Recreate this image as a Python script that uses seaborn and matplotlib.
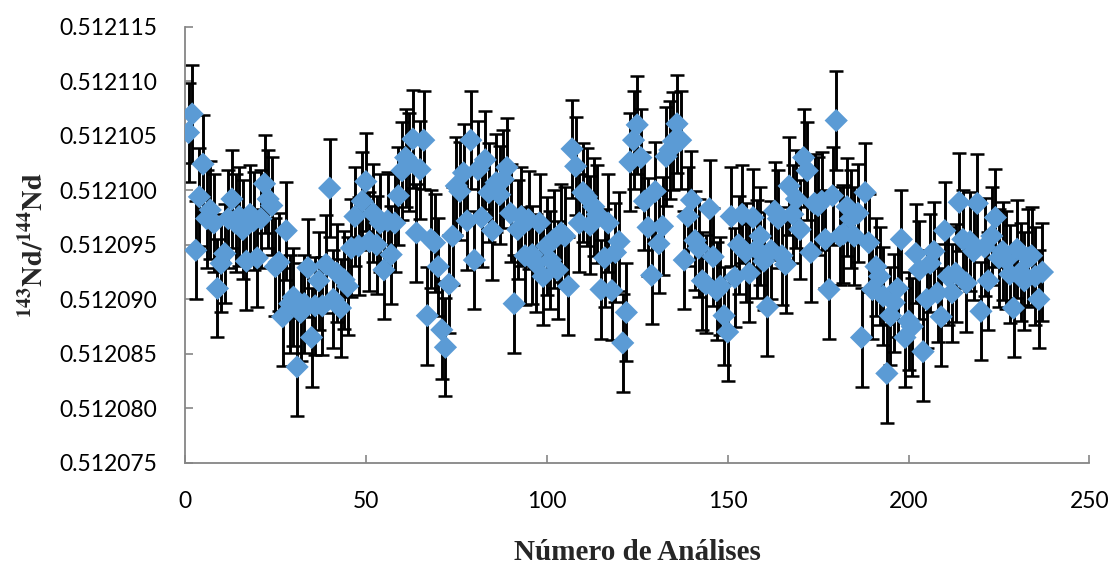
import numpy as np
import pandas as pd
import matplotlib
matplotlib.use("Agg")
import matplotlib.pyplot as plt
import seaborn as sns
from matplotlib.ticker import FormatStrFormatter, MultipleLocator

# === DADOS ===
# razão 143Nd/144Nd = 0.512 + valor * 1e-6
valores = [
    105.3, 107.0, 94.5, 99.4, 102.4, 97.4, 98.2, 97.0, 91.0, 93.3,
    94.2, 97.4, 99.2, 97.0, 97.6, 96.4, 93.5, 97.8, 97.2, 93.8,
    97.4, 100.6, 99.2, 98.6, 93.0, 93.4, 88.4, 96.3, 89.6, 90.2,
    83.8, 88.8, 89.6, 92.9, 86.5, 89.4, 91.7, 89.4, 93.2, 100.2,
    90.0, 92.4, 89.2, 91.8, 91.2, 94.7, 97.6, 94.9, 99.0, 100.8,
    95.3, 97.9, 95.0, 97.0, 92.7, 97.2, 94.1, 97.0, 99.5, 101.8,
    103.0, 102.6, 104.7, 96.1, 101.9, 104.6, 88.5, 95.5, 95.2, 93.0,
    87.2, 85.6, 91.4, 95.8, 100.4, 99.9, 101.6, 97.2, 104.6, 93.6,
    101.9, 97.5, 102.8, 99.8, 96.3, 100.7, 99.6, 101.0, 102.1, 97.9,
    89.6, 96.4, 97.6, 94.0, 97.3, 94.1, 93.3, 97.0, 92.1, 94.9,
    93.6, 95.5, 92.7, 96.1, 95.8, 91.2, 103.8, 102.2, 97.0, 99.8,
    99.4, 96.8, 98.5, 97.8, 90.9, 93.8, 97.0, 90.8, 94.3, 95.3,
    86.0, 88.8, 102.6, 104.6, 106.0, 103.0, 99.0, 96.6, 92.2, 99.9,
    95.1, 96.7, 103.1, 103.7, 104.5, 106.1, 104.6, 93.6, 97.6, 99.1,
    95.4, 94.7, 91.7, 91.4, 98.3, 93.9, 90.8, 91.2, 88.5, 87.0,
    97.6, 92.0, 95.0, 97.8, 94.3, 92.4, 97.5, 94.6, 95.8, 93.5,
    89.3, 94.5, 98.1, 97.4, 94.0, 93.2, 100.4, 97.8, 99.2, 96.4,
    103.0, 101.8, 94.3, 98.8, 98.6, 99.0, 95.5, 90.9, 99.5, 106.4,
    95.8, 96.0, 98.5, 97.4, 95.8, 97.9, 86.5, 99.8, 95.2, 90.9,
    93.0, 92.1, 90.3, 83.2, 88.5, 89.7, 91.0, 95.5, 86.5, 88.0,
    87.5, 94.2, 92.7, 85.2, 90.0, 93.3, 94.4, 90.6, 88.4, 96.3,
    92.1, 90.6, 92.4, 98.9, 95.5, 91.5, 95.3, 94.4, 98.8, 88.9,
    94.8, 91.7, 95.8, 97.5, 93.8, 94.4, 93.6, 92.3, 89.2, 94.6,
    92.5, 91.7, 93.8, 94.0, 92.1, 90.0, 92.5,
]
erro = 4.5  # meia barra de erro (x 1e-6)

analise = np.arange(1, len(valores) + 1)
razao = 0.512 + np.array(valores) * 1e-6
df = pd.DataFrame({"analise": analise, "razao": razao, "erro": erro * 1e-6})

# === FIGURA ===
sns.set_theme(style="white")
plt.rcParams["font.family"] = ["Lato", "DejaVu Sans"]
plt.rcParams["mathtext.fontset"] = "stix"

fig = plt.figure(figsize=(11.14, 5.70), dpi=100)
ax = fig.add_axes([0.166, 0.188, 0.812, 0.765])

# barras de erro
ax.errorbar(df["analise"], df["razao"], yerr=df["erro"], fmt="none",
            ecolor="black", elinewidth=2.1, capsize=4.8, capthick=1.8, zorder=2)
# pontos
sns.scatterplot(data=df, x="analise", y="razao", marker="D", s=140,
                color="#5B9BD5", edgecolor="none", linewidth=0, ax=ax, zorder=3)

ax.set_xlim(0, 250)
ax.set_ylim(0.512075, 0.512115)
ax.xaxis.set_major_locator(MultipleLocator(50))
ax.yaxis.set_major_locator(MultipleLocator(0.000005))
ax.yaxis.set_major_formatter(FormatStrFormatter("%.6f"))

for lado in ["top", "right"]:
    ax.spines[lado].set_visible(False)
ax.spines["left"].set_color("#868686")
ax.spines["bottom"].set_color("#868686")
ax.spines["left"].set_linewidth(1.3)
ax.spines["bottom"].set_linewidth(1.3)

ax.tick_params(axis="both", direction="in", length=6, width=1.2,
               color="#868686", labelsize=16.5, labelcolor="black", pad=20)
ax.tick_params(left=True, bottom=True)

ax.set_xlabel("Número de Análises", fontsize=21, fontweight="bold",
              family="Liberation Serif", labelpad=20)
ax.set_ylabel(r"$\mathbf{^{143}Nd/^{144}Nd}$", fontsize=20.5, labelpad=8)

fig.savefig("out.png", dpi=100)
